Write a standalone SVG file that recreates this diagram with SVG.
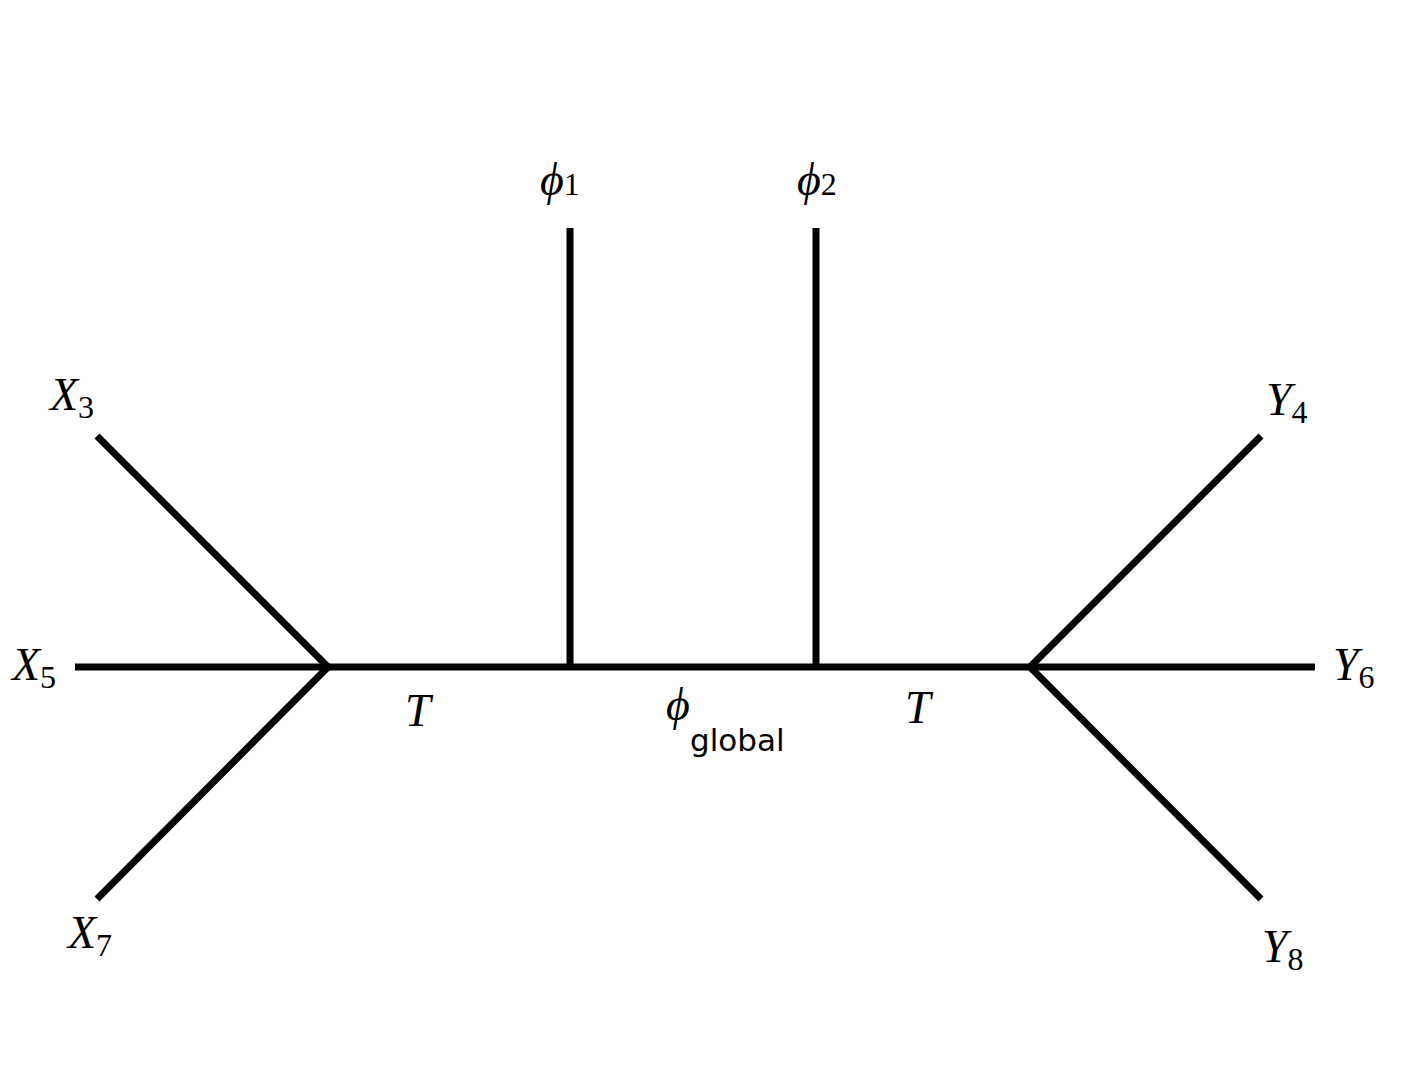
<svg xmlns="http://www.w3.org/2000/svg" width="1422" height="1066" viewBox="0 0 1422 1066">
<style>
.e{stroke:#000;stroke-width:7;fill:none}
.m{font-family:"Liberation Serif",serif;font-style:italic;font-size:46px;fill:#000}
.s{font-family:"Liberation Serif",serif;font-style:normal;font-size:32px}
.g{font-family:"DejaVu Sans",sans-serif;font-size:31px;fill:#000}
</style>
<rect width="1422" height="1066" fill="#fff"/>
<g id="connectors">
<line class="e" x1="75" y1="667" x2="1315" y2="667"/>
<line class="e" x1="97" y1="436" x2="328" y2="667"/>
<line class="e" x1="97" y1="899" x2="328" y2="667"/>
<line class="e" x1="1261" y1="436" x2="1030" y2="667"/>
<line class="e" x1="1261" y1="899" x2="1030" y2="667"/>
<line class="e" x1="570" y1="228" x2="570" y2="667"/>
<line class="e" x1="816" y1="228" x2="816" y2="667"/>
</g>
<g id="X3"><text class="m" x="50" y="410">X<tspan class="s" dy="8">3</tspan></text></g>
<g id="X5"><text class="m" x="12" y="680">X<tspan class="s" dy="8">5</tspan></text></g>
<g id="X7"><text class="m" x="68" y="948">X<tspan class="s" dy="8">7</tspan></text></g>
<g id="Y4"><text class="m" x="1266" y="415">Y<tspan class="s" dy="8">4</tspan></text></g>
<g id="Y6"><text class="m" x="1333" y="680">Y<tspan class="s" dy="8">6</tspan></text></g>
<g id="Y8"><text class="m" x="1262" y="962">Y<tspan class="s" dy="8">8</tspan></text></g>
<g id="phi1"><text class="m" x="540" y="195">ϕ<tspan class="s" dy="0">1</tspan></text></g>
<g id="phi2"><text class="m" x="797" y="195">ϕ<tspan class="s" dy="0">2</tspan></text></g>
<g id="T1"><text class="m" x="405" y="726">T</text></g>
<g id="T2"><text class="m" x="905" y="723">T</text></g>
<g id="phiglobal"><text class="m" x="666" y="720">ϕ</text><text class="g" x="690" y="751">global</text></g>
</svg>
